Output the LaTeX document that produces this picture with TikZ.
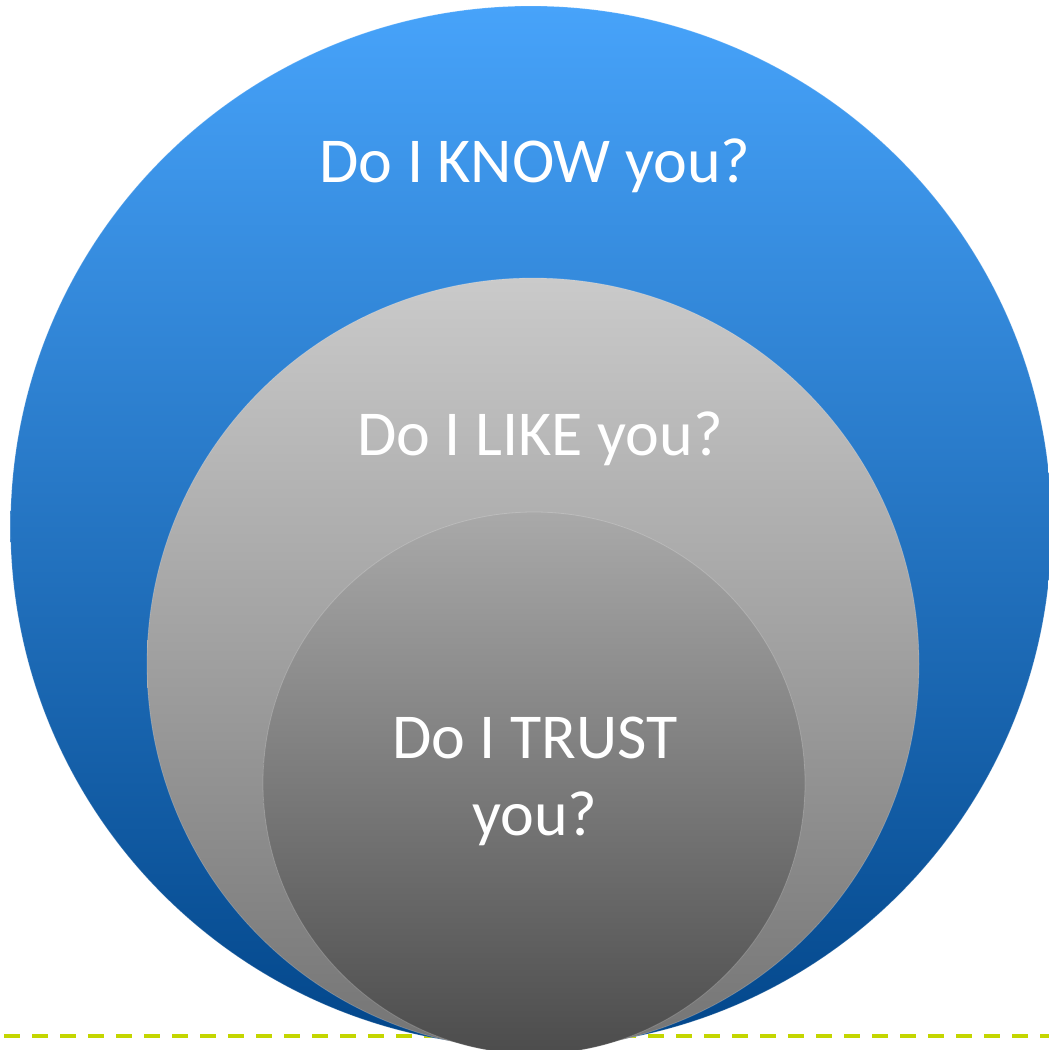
\documentclass[tikz,border=0pt]{standalone}
\usepackage{fontspec}
\setmainfont{Carlito}
\definecolor{knowtop}{HTML}{47A3FA}
\definecolor{knowmid}{HTML}{0A69CC}
\definecolor{knowbot}{HTML}{02468A}
\definecolor{liketop}{HTML}{CACACA}
\definecolor{likemid}{HTML}{ABABAB}
\definecolor{likebot}{HTML}{747474}
\definecolor{trusttop}{HTML}{A9A9A9}
\definecolor{trustmid}{HTML}{7E7E7E}
\definecolor{trustbot}{HTML}{4C4C4C}
\definecolor{guidegreen}{HTML}{C4D600}
\tikzset{
  disc/.style={circle, inner sep=0pt, draw=white, draw opacity=0.2, line width=0.8pt},
  question/.style={text=white, font=\fontsize{64}{76}\selectfont, align=center, inner sep=0pt},
  guideline/.style={draw=guidegreen, line width=4pt, dash pattern=on 16pt off 12pt}
}
\begin{document}
\begin{tikzpicture}[x=1pt,y=-1pt]
  \useasboundingbox (0,0) rectangle (1049,1050);
  \clip (0,0) rectangle (1049,1050);
  % dashed base line behind the discs
  \coordinate (gl) at (4,1036);
  \coordinate (gr) at (1049,1036);
  \draw[guideline] (gl) -- (gr);
  % nested discs
  \node[disc, minimum size=1041pt, top color=knowtop, middle color=knowmid, bottom color=knowbot] (outer) at (531,526.5) {};
  \node[disc, minimum size=772pt, top color=liketop, middle color=likemid, bottom color=likebot] (middle) at (533,664) {};
  \node[disc, minimum size=542pt, top color=trusttop, middle color=trustmid, bottom color=trustbot] (inner) at (534,783) {};
  % labels
  \node[question, anchor=base] (know) at (535,182) {Do I KNOW you?};
  \node[question, anchor=base] (like) at (540,455) {Do I LIKE you?};
  \node[question, anchor=base] (trust) at (535,758) {Do I TRUST};
  \node[question, anchor=base] (trust2) at (535,835) {you?};
\end{tikzpicture}
\end{document}
